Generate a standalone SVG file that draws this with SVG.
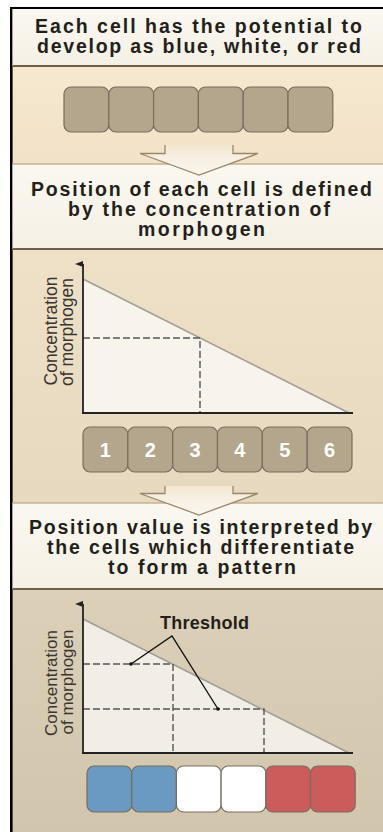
<svg xmlns="http://www.w3.org/2000/svg" width="383" height="832" viewBox="0 0 383 832">
<defs>
<linearGradient id="p1" x1="0" y1="0" x2="0" y2="1"><stop offset="0" stop-color="#f6e8cf"/><stop offset="1" stop-color="#f1e2c8"/></linearGradient>
<linearGradient id="p2" x1="0" y1="0" x2="0" y2="1"><stop offset="0" stop-color="#eee1c7"/><stop offset="1" stop-color="#e6d9bf"/></linearGradient>
<linearGradient id="p3" x1="0" y1="0" x2="0" y2="1"><stop offset="0" stop-color="#dcd0b8"/><stop offset="1" stop-color="#d1c5ad"/></linearGradient>
<linearGradient id="hd" x1="0" y1="0" x2="0" y2="1"><stop offset="0" stop-color="#fbf8f1"/><stop offset="1" stop-color="#f5f0e5"/></linearGradient>
<linearGradient id="ar" x1="0" y1="0" x2="0" y2="1"><stop offset="0" stop-color="#f3e6cf"/><stop offset="0.4" stop-color="#f6efe2"/><stop offset="1" stop-color="#faf6ee"/></linearGradient>
<marker id="axh" viewBox="0 0 6 8" refX="3" refY="8" markerWidth="6" markerHeight="8" markerUnits="userSpaceOnUse" orient="auto-start-reverse"><path d="M0,8 L3,0 L6,8 Z" fill="#222"/></marker>
</defs>
<style>
.hdt{font-family:"Liberation Sans",Arial,sans-serif;font-weight:bold;font-size:19.5px;fill:#231f1a;text-anchor:middle}
.ylab{font-family:"Liberation Sans",Arial,sans-serif;font-size:17.5px;fill:#3a3530;text-anchor:middle}
.num{font-family:"Liberation Sans",Arial,sans-serif;font-weight:bold;font-size:20px;fill:#ffffff;text-anchor:middle}
.cell{fill:#b4a68c;stroke:#776d5e;stroke-width:1.2}
.hb{fill:url(#hd)}
.ltop{stroke:#c6b292;stroke-width:1.5}
.lbot{stroke:#6f5e49;stroke-width:1.8}
.axis{stroke:#222;stroke-width:1.8;fill:none}
.slope{stroke:#a09d98;stroke-width:1.5;fill:none}
.dash{stroke:#555;stroke-width:1.4;stroke-dasharray:7 3;fill:none}
.arrow{fill:url(#ar);stroke:#9c8668;stroke-width:1.3}
.ptr{stroke:#111;stroke-width:1.4;fill:none}
</style>
<rect width="383" height="832" fill="#ffffff"/>
<rect x="12" y="66" width="371" height="98" fill="url(#p1)"/>
<rect x="12" y="249" width="371" height="254" fill="url(#p2)"/>
<rect x="12" y="589" width="371" height="243" fill="url(#p3)"/>
<rect x="10" y="7" width="373" height="2" fill="#000"/>
<rect x="10" y="7" width="2.6" height="825" fill="#000"/>

<g id="header1">
<rect class="hb" x="12.6" y="9" width="370.4" height="57"/>
<line class="lbot" x1="12.6" y1="66" x2="383" y2="66"/>
<text class="hdt" x="198.5" y="33" textLength="327" lengthAdjust="spacing">Each cell has the potential to</text>
<text class="hdt" x="199" y="53" textLength="324" lengthAdjust="spacing">develop as blue, white, or red</text>
</g>

<g id="cells1">
<rect class="cell" x="64" y="87" width="44.8" height="45" rx="7"/>
<rect class="cell" x="108.8" y="87" width="44.8" height="45" rx="7"/>
<rect class="cell" x="153.6" y="87" width="44.8" height="45" rx="7"/>
<rect class="cell" x="198.4" y="87" width="44.8" height="45" rx="7"/>
<rect class="cell" x="243.2" y="87" width="44.8" height="45" rx="7"/>
<rect class="cell" x="288" y="87" width="44.8" height="45" rx="7"/>
</g>

<g id="header2">
<rect class="hb" x="12.6" y="164" width="370.4" height="85"/>
<line class="ltop" x1="12.6" y1="164" x2="383" y2="164"/>
<line class="lbot" x1="12.6" y1="249" x2="383" y2="249"/>
<text class="hdt" x="201.5" y="196" textLength="341" lengthAdjust="spacing">Position of each cell is defined</text>
<text class="hdt" x="199" y="216" textLength="262" lengthAdjust="spacing">by the concentration of</text>
<text class="hdt" x="201.5" y="236" textLength="127" lengthAdjust="spacing">morphogen</text>
</g>

<g id="graph1">
<polygon points="83,279 348,413 83,413" fill="#f8f4ec"/>
<line class="slope" x1="83" y1="279" x2="349" y2="413"/>
<path class="dash" d="M83,338 H200 V413"/>
<path class="axis" d="M83,413 V264" marker-end="url(#axh)"/>
<line class="axis" x1="82" y1="413" x2="353" y2="413"/>
<text class="ylab" transform="translate(57,331) rotate(-90)">Concentration</text>
<text class="ylab" transform="translate(73,332) rotate(-90)">of morphogen</text>
</g>

<g id="cells2">
<rect class="cell" x="83" y="427" width="44.8" height="45" rx="7"/>
<rect class="cell" x="127.8" y="427" width="44.8" height="45" rx="7"/>
<rect class="cell" x="172.7" y="427" width="44.8" height="45" rx="7"/>
<rect class="cell" x="217.5" y="427" width="44.8" height="45" rx="7"/>
<rect class="cell" x="262.3" y="427" width="44.8" height="45" rx="7"/>
<rect class="cell" x="307.2" y="427" width="44.8" height="45" rx="7"/>
<text class="num" x="105.4" y="456.5">1</text>
<text class="num" x="150.2" y="456.5">2</text>
<text class="num" x="195.1" y="456.5">3</text>
<text class="num" x="239.9" y="456.5">4</text>
<text class="num" x="284.7" y="456.5">5</text>
<text class="num" x="329.6" y="456.5">6</text>
</g>

<g id="header3">
<rect class="hb" x="12.6" y="503" width="370.4" height="86"/>
<line class="ltop" x1="12.6" y1="503" x2="383" y2="503"/>
<line class="lbot" x1="12.6" y1="589" x2="383" y2="589"/>
<text class="hdt" x="200.5" y="534" textLength="343" lengthAdjust="spacing">Position value is interpreted by</text>
<text class="hdt" x="200.5" y="554" textLength="307" lengthAdjust="spacing">the cells which differentiate</text>
<text class="hdt" x="202" y="574" textLength="188" lengthAdjust="spacing">to form a pattern</text>
</g>

<g id="graph2">
<polygon points="83,619 348,753 83,753" fill="#f2eee5"/>
<line class="slope" x1="83" y1="619" x2="349" y2="753"/>
<path class="dash" d="M83,664 H173 V753"/>
<path class="dash" d="M83,709 H264 V753"/>
<path class="axis" d="M83,753 V604" marker-end="url(#axh)"/>
<line class="axis" x1="82" y1="753" x2="353" y2="753"/>
<text class="ylab" style="font-size:17px" transform="translate(57,683) rotate(-90)">Concentration</text>
<text class="ylab" style="font-size:17px" transform="translate(73,682) rotate(-90)">of morphogen</text>
<text class="hdt" style="font-size:18px" x="204.5" y="629" textLength="89" lengthAdjust="spacing">Threshold</text>
</g>

<g id="cells3">
<rect class="cell" style="fill:#6a9ac2" x="87" y="766" width="44.7" height="46" rx="7"/>
<rect class="cell" style="fill:#6a9ac2" x="131.7" y="766" width="44.7" height="46" rx="7"/>
<rect class="cell" style="fill:#ffffff" x="176.4" y="766" width="44.7" height="46" rx="7"/>
<rect class="cell" style="fill:#ffffff" x="221.1" y="766" width="44.7" height="46" rx="7"/>
<rect class="cell" style="fill:#cb5c5b" x="265.8" y="766" width="44.7" height="46" rx="7"/>
<rect class="cell" style="fill:#cb5c5b" x="310.5" y="766" width="44.7" height="46" rx="7"/>
</g>

<g id="connectors">
<path id="arrow1" class="arrow" d="M165,145 V153.5 H140 L199,175 L258,153.5 H233 V145"/>
<path id="arrow2" class="arrow" d="M165,486 V493.5 H140 L199,515 L258,493.5 H233 V486"/>
<path class="ptr" d="M131,664 L172,636 L218,709"/>
<circle cx="131" cy="664" r="1.8" fill="#111"/>
<circle cx="218" cy="709" r="1.8" fill="#111"/>
</g>
</svg>
